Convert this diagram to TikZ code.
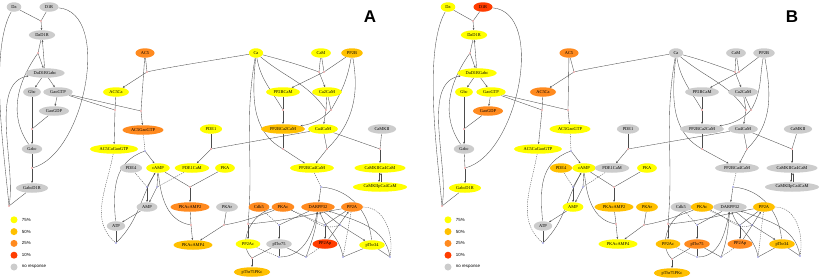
\documentclass[tikz,border=0pt]{standalone}
\usepackage{fontspec}
\setmainfont{Liberation Serif}
\setsansfont{Liberation Sans}
\usepackage{xcolor}
\usetikzlibrary{arrows.meta,positioning,shapes.geometric,calc}

\definecolor{lvA}{HTML}{FFFF00}
\definecolor{lvB}{HTML}{FFC000}
\definecolor{lvC}{HTML}{FF8A1F}
\definecolor{lvD}{HTML}{FF3D00}
\definecolor{lvN}{HTML}{CCCCCC}

\pgfdeclarelayer{bg}
\pgfsetlayers{bg,main}

% reactions, drawn once per panel (node names are reused)
\newcommand{\pathway}{%
\begin{pgfonlayer}{bg}
% receptor and G protein
\node[rdot] (r1) at ($(DaD1R)+(-1,14)$) {};
\draw[link] (Da) -- (r1);
\draw[link] (D1R) -- (r1);
\draw[arrow] (r1) -- (DaD1R);
\node[rdot] (r2) at ($(DaD1RGabc)+(-7,20)$) {};
\draw[link] (DaD1R) -- (r2);
\draw[link] (Gabc) to[out=125,in=235] (r2);
\draw[arrow] (r2) -- (DaD1RGabc);
\draw[arrow] (DaD1RGabc) -- (DaD1R);
\node[rdot] (r3) at ($(GabcD1R)+(-23,-18)$) {};
\draw[link] (GabcD1R) -- (r3);
\draw[link] (Da) to[out=240,in=95,looseness=0.6] (r3);
\draw[arrow] (r3) to[out=80,in=190,looseness=0.8] (DaD1RGabc);
\node[rdot] (r4) at ($(GabcD1R)+(0,20)$) {};
\draw[link] (D1R) to[out=-5,in=15,looseness=0.85] (r4);
\draw[link] (Gabc) -- (r4);
\draw[arrow] (r4) -- (GabcD1R);
\draw[arrow] (DaD1RGabc) -- (Gbc);
\draw[arrow] (DaD1RGabc) -- (GaoGTP);
\draw[arrow] (GaoGTP) -- (GaoGDP);
\node[rdot] (r6) at ($(Gabc)+(0,20)$) {};
\draw[link] (Gbc) -- (r6);
\draw[link] (GaoGDP) -- (r6);
\draw[arrow] (r6) -- (Gabc);
% adenylyl cyclase
\node[rdot] (r7) at ($(AC5Ca)+(31,20)$) {};
\draw[link] (AC5) -- (r7);
\draw[link] (Ca) to[out=190,in=15,looseness=0.3] (r7);
\draw[arrow] (r7) -- (AC5Ca);
\node[rdot] (r8) at ($(AC5GaoGTP)+(-2,19)$) {};
\draw[link] (AC5) -- (r8);
\draw[link] (GaoGTP) -- (r8);
\draw[arrow] (r8) -- (AC5GaoGTP);
\node[rdot] (r9) at ($(AC5Ca)+(-1,-18)$) {};
\draw[link] (AC5Ca) -- (r9);
\draw[link] (GaoGTP) -- (r9);
\draw[arrow] (r9) -- (AC5CaGaoGTP);
% cAMP
\node[bdot] (b1) at ($(cAMP)+(-13,17)$) {};
\draw[enz] (AC5GaoGTP) -- (b1);
\draw[link] (ATP) to[out=95,in=200,looseness=1.1] (b1);
\draw[arrow] (b1) -- (cAMP);
\node[bdot] (b2) at ($(ATP)+(0,-17)$) {};
\draw[link] (ATP) -- (b2);
\draw[enz] (AC5CaGaoGTP) to[out=260,in=140] (b2);
\draw[arrow] (b2) to[out=45,in=240] (cAMP);
\node[bdot] (b3) at ($(AMP)+(0,20)$) {};
\node[bdot] (b4) at ($(AMP)+(10,20)$) {};
\draw[link] (cAMP) -- (b3);
\draw[link] (cAMP) -- (b4);
\draw[enz] (PDE4) -- (b3);
\draw[enz] (PDE1CaM) -- (b4);
\draw[arrow] (b3) -- (AMP);
\draw[arrow] (b4) -- (AMP);
\draw[arrow] (AMP) -- (ATP);
% PKA
\node[rdot] (r15) at ($(PKAcAMP2)+(0,20)$) {};
\draw[link] (cAMP) -- (r15);
\draw[link] (PKA) -- (r15);
\draw[arrow] (r15) -- (PKAcAMP2);
\node[rdot] (r16) at ($(PKAcAMP4)+(-2,20)$) {};
\draw[link] (PKAcAMP2) -- (r16);
\draw[link] (cAMP) to[out=275,in=170] (r16);
\draw[arrow] (r16) -- (PKAcAMP4);
\node[rdot] (r17) at ($(PKAr)+(-3,-18)$) {};
\draw[link] (PKAr) -- (r17);
\draw[link] (PKAc) to[out=200,in=10] (r17);
\draw[arrow] (r17) -- (PKAcAMP4);
\node[rdot] (r18) at ($(PDE1)+(0,-20)$) {};
\draw[link] (PDE1) -- (r18);
\draw[link] (Ca4CaM) -- (r18);
\draw[arrow] (r18) -- (PDE1CaM);
% calcium and calmodulin
\node[rdot] (r19) at ($(Ca2CaM)+(-8,20)$) {};
\draw[link] (CaM) -- (r19);
\draw[link] (Ca) to[out=-15,in=160] (r19);
\draw[arrow] (r19) -- (Ca2CaM);
\node[rdot] (r20) at ($(CaM)+(3,-19)$) {};
\draw[link] (CaM) -- (r20);
\draw[link] (PP2B) -- (r20);
\draw[arrow] (r20) -- (PP2BCaM);
\node[rdot] (r21) at ($(PP2BCa2CaM)+(0,19)$) {};
\draw[link] (PP2BCaM) -- (r21);
\draw[link] (Ca) to[out=-80,in=120] (r21);
\draw[arrow] (r21) -- (PP2BCa2CaM);
\node[rdot] (r22) at ($(Ca4CaM)+(3,19)$) {};
\node[rdot] (r23) at ($(Ca4CaM)+(8,19)$) {};
\draw[link] (Ca2CaM) -- (r22);
\draw[link] (Ca2CaM) -- (r23);
\draw[link] (Ca) to[out=-40,in=125] (r22);
\draw[link] (PP2B) to[out=-100,in=60] (r23);
\draw[arrow] (r22) -- (Ca4CaM);
\draw[arrow] (r23) to[out=225,in=10] (PP2BCa2CaM);
\node[rdot] (r24) at ($(PP2BCa2CaM)+(0,-20)$) {};
\draw[link] (PP2BCa2CaM) -- (r24);
\draw[link] (Ca) to[out=-95,in=150] (r24);
\draw[arrow] (r24) -- (PP2BCa4CaM);
\node[rdot] (r25) at ($(Ca4CaM)+(4,-20)$) {};
\draw[link] (Ca4CaM) -- (r25);
\draw[link] (PP2B) to[out=-80,in=45] (r25);
\draw[arrow] (r25) -- (PP2BCa4CaM);
\node[rdot] (r26) at ($(CaMKIICa4CaM)+(0,19)$) {};
\draw[link] (CaMKII) -- (r26);
\draw[link] (Ca4CaM) -- (r26);
\draw[arrow] (r26) -- (CaMKIICa4CaM);
\draw[arrow] ([xshift=-1pt]CaMKIICa4CaM.south) -- ([xshift=-1pt]CaMKIIpCa4CaM.north);
\draw[arrow] ([xshift=1pt]CaMKIIpCa4CaM.north) -- ([xshift=1pt]CaMKIICa4CaM.south);
\node[rdot] (r27) at ($(PP2Ac)+(0,20)$) {};
\draw[link] (Ca) to[out=-100,in=85] (r27);
\draw[link] (PP2A) to[out=190,in=5] (r27);
\draw[arrow] (r27) -- (PP2Ac);
% DARPP-32
\node[bdot] (b5) at ($(DARPP32)+(3,20)$) {};
\draw[enz] (PP2BCa4CaM) -- (b5);
\draw[link] (pThr34) to[out=95,in=-5] (b5);
\draw[arrow] (b5) -- (DARPP32);
\node[bdot] (b6) at ($(pThr75)+(0,19)$) {};
\draw[link] (DARPP32) -- (b6);
\draw[enz] (Cdk5) -- (b6);
\draw[arrow] (b6) -- (pThr75);
\node[rdot] (r28) at ($(pThr75PKc)+(0,14)$) {};
\draw[link] (pThr75) -- (r28);
\draw[link] (PKAc) to[out=190,in=135] (r28);
\draw[arrow] (r28) -- (pThr75PKc);
\node[bdot] (b7) at ($(pThr75)+(0,-13)$) {};
\draw[link] (pThr75) -- (b7);
\draw[enz] (PP2Ac) -- (b7);
\draw[arrow] (b7) to[out=0,in=260] (DARPP32);
\node[bdot] (b8) at ($(PP2Ap)+(-19,-13)$) {};
\draw[link] (pThr75) -- (b8);
\draw[enz] (PP2Ap) -- (b8);
\draw[arrow] (b8) to[out=70,in=265] (DARPP32);
\node[bdot] (b9) at ($(PP2Ap)+(18,-13)$) {};
\draw[link] (pThr34) -- (b9);
\draw[enz] (PP2A) -- (b9);
\draw[arrow] (b9) to[out=100,in=290] (DARPP32);
\node[bdot] (b10) at ($(pThr34)+(18,-12)$) {};
\draw[link] (pThr34) -- (b10);
\draw[enz] (PP2A) to[out=0,in=80] (b10);
\draw[arrow] (b10) to[out=100,in=-20] (DARPP32);
\node[bdot] (b11) at ($(PP2Ap)+(0,19)$) {};
\draw[link] (PP2A) -- (b11);
\draw[enz] (PKAc) -- (b11);
\draw[arrow] (b11) -- (PP2Ap);
\draw[arrow] (PP2Ap) -- (PP2A);
\node[bdot] (b12) at ($(DARPP32)+(22,-18)$) {};
\draw[link] (DARPP32) -- (b12);
\draw[enz] (PKAc) to[out=-20,in=200] (b12);
\draw[arrow] (b12) -- (pThr34);
\end{pgfonlayer}}

% legend next to a panel, #1 = x of the dots
\newcommand{\legend}[1]{%
\foreach \c/\t [count=\i] in {lvA/75\%, lvB/50\%, lvC/25\%, lvD/10\%, lvN/no response}{
  \node[key, fill=\c] (key\i) at (#1,-208-11.8*\i) {};
  \node[keytext, right=4pt of key\i] (keyt\i) {\t};
}}

\begin{document}
\begin{tikzpicture}[
    x=1pt, y=1pt,
    sp/.style={
        ellipse,
        inner xsep=2.6pt,
        inner ysep=0.5pt,
        minimum height=9.5pt,
        font=\fontsize{4.4}{5}\selectfont
    },
    s75/.style={sp, fill=lvA},
    s50/.style={sp, fill=lvB},
    s25/.style={sp, fill=lvC},
    s10/.style={sp, fill=lvD},
    sno/.style={sp, fill=lvN},
    rdot/.style={circle, fill=red!85!black, inner sep=0pt, minimum size=1.3pt},
    bdot/.style={circle, fill=blue!75!black, inner sep=0pt, minimum size=1.3pt},
    link/.style={draw=black!70, line width=0.35pt},
    arrow/.style={link, -{Stealth[length=2.2pt,width=1.8pt]}},
    enz/.style={link, dash pattern=on 1.2pt off 1pt},
    key/.style={circle, inner sep=0pt, minimum size=7pt},
    keytext/.style={font=\sffamily\fontsize{4.4}{5}\selectfont, inner sep=0pt},
    panel/.style={font=\sffamily\bfseries\fontsize{17}{17}\selectfont}
]
\useasboundingbox (0,0) rectangle (822,-279);

%%% panel A
\node[panel] (labA) at (370,-17) {A};
\node[sno] (Da) at (14,-7) {Da};
\node[sno] (D1R) at (49,-7) {D1R};
\node[sno] (DaD1R) at (42,-35) {DaD1R};
\node[sno] (DaD1RGabc) at (45,-73) {DaD1RGabc};
\node[sno] (Gbc) at (32,-92) {Gbc};
\node[sno] (GaoGTP) at (58,-92) {GaoGTP};
\node[sno] (GaoGDP) at (54,-111) {GaoGDP};
\node[sno] (Gabc) at (32,-149) {Gabc};
\node[sno] (GabcD1R) at (32,-188) {GabcD1R};
\node[s25] (AC5) at (145,-53) {AC5};
\node[s75] (AC5Ca) at (116,-92) {AC5Ca};
\node[s25] (AC5GaoGTP) at (143,-130) {AC5GaoGTP};
\node[s75] (AC5CaGaoGTP) at (114,-149) {AC5CaGaoGTP};
\node[sno] (PDE4) at (131,-168) {PDE4};
\node[s75] (cAMP) at (158,-168) {cAMP};
\node[s75] (PDE1CaM) at (192,-168) {PDE1CaM};
\node[sno] (AMP) at (147,-207) {AMP};
\node[sno] (ATP) at (116,-226) {ATP};
\node[s25] (PKAcAMP2) at (190,-207) {PKAcAMP2};
\node[s50] (PKAcAMP4) at (193,-245) {PKAcAMP4};
\node[s75] (PDE1) at (211,-129) {PDE1};
\node[s75] (Ca) at (256,-53) {Ca};
\node[s75] (CaM) at (321,-53) {CaM};
\node[s50] (PP2B) at (352,-53) {PP2B};
\node[s75] (PP2BCaM) at (283,-92) {PP2BCaM};
\node[s75] (Ca2CaM) at (327,-92) {Ca2CaM};
\node[s50] (PP2BCa2CaM) at (283,-129) {PP2BCa2CaM};
\node[s75] (Ca4CaM) at (323,-129) {Ca4CaM};
\node[sno] (CaMKII) at (382,-129) {CaMKII};
\node[s75] (PKA) at (225,-168) {PKA};
\node[s75] (PP2BCa4CaM) at (312,-168) {PP2BCa4CaM};
\node[s75] (CaMKIICa4CaM) at (380,-168) {CaMKIICa4CaM};
\node[s75] (CaMKIIpCa4CaM) at (380,-187) {CaMKIIpCa4CaM};
\node[sno] (PKAr) at (227,-207) {PKAr};
\node[s25] (Cdk5) at (259,-207) {Cdk5};
\node[s25] (PKAc) at (283,-207) {PKAc};
\node[s25] (DARPP32) at (318,-207) {DARPP32};
\node[s25] (PP2A) at (352,-207) {PP2A};
\node[s75] (PP2Ac) at (248,-244) {PP2Ac};
\node[sno] (pThr75) at (279,-244) {pThr75};
\node[s10] (PP2Ap) at (325,-244) {PP2Ap};
\node[s75] (pThr34) at (372,-245) {pThr34};
\node[s50] (pThr75PKc) at (252,-272) {pThr75PKc};
\pathway
\legend{14}

%%% panel B
\node[panel] (labB) at (792,-17) {B};
\node[s75] (Da) at (448,-7) {Da};
\node[s10] (D1R) at (483,-7) {D1R};
\node[s75] (DaD1R) at (474,-35) {DaD1R};
\node[s75] (DaD1RGabc) at (477,-73) {DaD1RGabc};
\node[s75] (Gbc) at (464,-92) {Gbc};
\node[s75] (GaoGTP) at (491,-92) {GaoGTP};
\node[s25] (GaoGDP) at (488,-111) {GaoGDP};
\node[sno] (Gabc) at (464,-149) {Gabc};
\node[s75] (GabcD1R) at (465,-188) {GabcD1R};
\node[s25] (AC5) at (569,-53) {AC5};
\node[s25] (AC5Ca) at (543,-92) {AC5Ca};
\node[s75] (AC5GaoGTP) at (570,-129) {AC5GaoGTP};
\node[s75] (AC5CaGaoGTP) at (538,-149) {AC5CaGaoGTP};
\node[s50] (PDE4) at (561,-168) {PDE4};
\node[s75] (cAMP) at (584,-168) {cAMP};
\node[sno] (PDE1CaM) at (612,-168) {PDE1CaM};
\node[s75] (AMP) at (573,-207) {AMP};
\node[sno] (ATP) at (543,-226) {ATP};
\node[s50] (PKAcAMP2) at (614,-207) {PKAcAMP2};
\node[s75] (PKAcAMP4) at (618,-244) {PKAcAMP4};
\node[sno] (PDE1) at (628,-129) {PDE1};
\node[sno] (Ca) at (676,-53) {Ca};
\node[sno] (CaM) at (736,-53) {CaM};
\node[sno] (PP2B) at (764,-53) {PP2B};
\node[sno] (PP2BCaM) at (702,-92) {PP2BCaM};
\node[sno] (Ca2CaM) at (743,-92) {Ca2CaM};
\node[sno] (PP2BCa2CaM) at (702,-129) {PP2BCa2CaM};
\node[sno] (Ca4CaM) at (743,-129) {Ca4CaM};
\node[sno] (CaMKII) at (798,-129) {CaMKII};
\node[s75] (PKA) at (647,-168) {PKA};
\node[sno] (PP2BCa4CaM) at (737,-168) {PP2BCa4CaM};
\node[sno] (CaMKIICa4CaM) at (792,-168) {CaMKIICa4CaM};
\node[sno] (CaMKIIpCa4CaM) at (792,-187) {CaMKIIpCa4CaM};
\node[s50] (PKAr) at (647,-207) {PKAr};
\node[sno] (Cdk5) at (681,-207) {Cdk5};
\node[s50] (PKAc) at (702,-207) {PKAc};
\node[sno] (DARPP32) at (730,-207) {DARPP32};
\node[s50] (PP2A) at (764,-207) {PP2A};
\node[s50] (PP2Ac) at (668,-244) {PP2Ac};
\node[s25] (pThr75) at (697,-244) {pThr75};
\node[s25] (PP2Ap) at (740,-244) {PP2Ap};
\node[s50] (pThr34) at (782,-244) {pThr34};
\node[s50] (pThr75PKc) at (672,-273) {pThr75PKc};
\pathway
\legend{448}

\end{tikzpicture}
\end{document}
